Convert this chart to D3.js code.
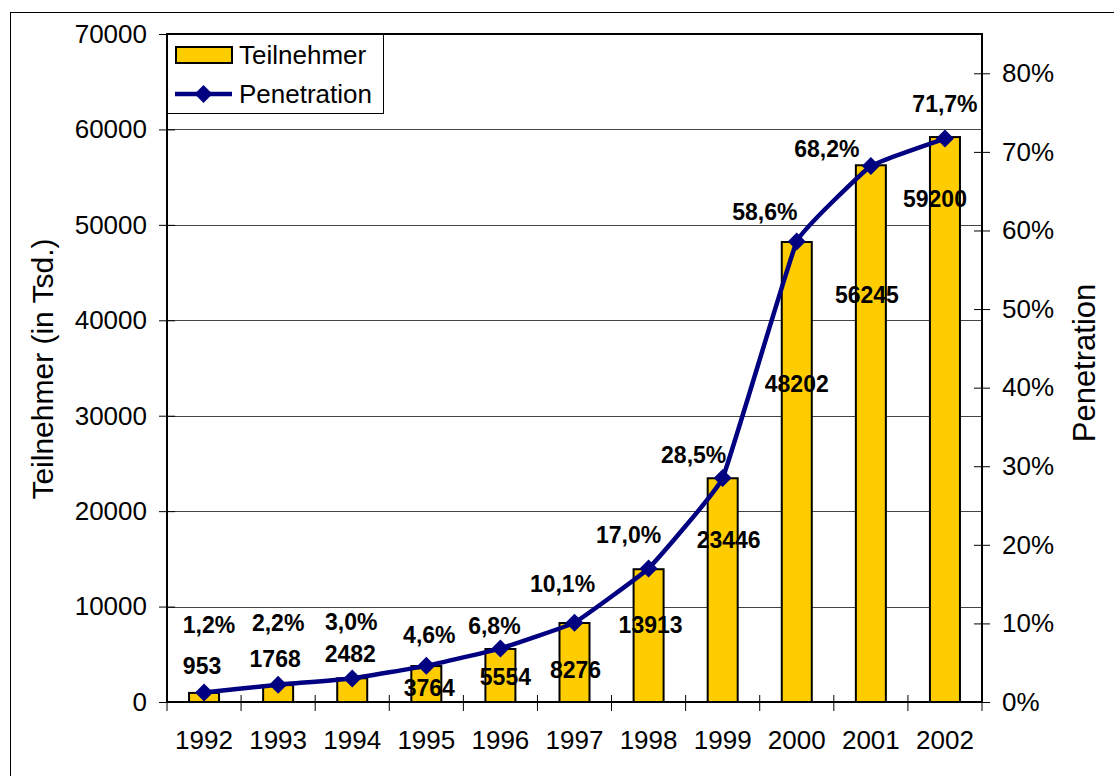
<!DOCTYPE html>
<html>
<head>
<meta charset="utf-8">
<script src="https://cdn.jsdelivr.net/npm/d3@7"></script>
<style>
  body { margin: 0; background: #fff; }
  svg text { font-family: Arial, "Liberation Sans", sans-serif; fill: #000; }
</style>
</head>
<body>
<svg id="chart" width="1114" height="776"></svg>
<script>
'use strict';

// data
var years = ["1992", "1993", "1994", "1995", "1996", "1997", "1998", "1999", "2000", "2001", "2002"];
var teilnehmer = [953, 1768, 2482, 3764, 5554, 8276, 13913, 23446, 48202, 56245, 59200];
var penetration = [1.2, 2.2, 3.0, 4.6, 6.8, 10.1, 17.0, 28.5, 58.6, 68.2, 71.7];
var leftTicks = [0, 10000, 20000, 30000, 40000, 50000, 60000, 70000];
var rightTicks = [0, 10, 20, 30, 40, 50, 60, 70, 80];

// hand-placed label offsets (px) as in the original chart
var barLabelOffset = [[-2, -27], [-3, -26], [-2, -24], [3, 22], [5, 28], [1, 47], [2, 56], [6, 62], [0, 142], [-4, 130], [-10, 62]];
var pctLabelOffset = [[5, -68], [0, -62], [-1, -56], [3, -31], [-6, -23], [-12, -39], [-20, -33], [-29, -23], [-32, -30], [-44, -17], [0, -35]];

var margin = { left: 167, right: 982, top: 34, bottom: 702 };

var svg = d3.select("#chart");

var de = d3.formatLocale({ decimal: ",", thousands: ".", grouping: [3], currency: ["", "€"] });
var fmtPct = de.format(".1f");

var x = d3.scaleBand()
    .domain(years)
    .range([margin.left, margin.right])
    .paddingInner(0.595)
    .paddingOuter(0.2975);

var yL = d3.scaleLinear().domain([0, 70000]).range([margin.bottom, margin.top]);
var yR = d3.scaleLinear().domain([0, 85]).range([margin.bottom, margin.top]);

var step = (margin.right - margin.left) / years.length;
var cx = (d) => x(d) + x.bandwidth() / 2;

// outer frame
svg.append("rect")
    .attr("x", 10.5).attr("y", 12.5)
    .attr("width", 1200).attr("height", 1000)
    .attr("fill", "none").attr("stroke", "#000").attr("stroke-width", 1);

// gridlines
svg.append("g")
    .selectAll("line")
    .data(leftTicks.filter((d) => d > 0 && d < 70000))
    .enter().append("line")
    .attr("x1", margin.left).attr("x2", margin.right)
    .attr("y1", (d) => Math.round(yL(d)) + 0.5)
    .attr("y2", (d) => Math.round(yL(d)) + 0.5)
    .attr("stroke", "#444").attr("stroke-width", 1);

// bars
svg.append("g")
    .selectAll("rect")
    .data(teilnehmer)
    .enter().append("rect")
    .attr("x", (d, i) => x(years[i]))
    .attr("y", (d) => yL(d))
    .attr("width", x.bandwidth())
    .attr("height", (d) => yL(0) - yL(d))
    .attr("fill", "#FFCC00")
    .attr("stroke", "#000")
    .attr("stroke-width", 2);

// plot border
svg.append("rect")
    .attr("x", margin.left).attr("y", margin.top)
    .attr("width", margin.right - margin.left)
    .attr("height", margin.bottom - margin.top)
    .attr("fill", "none").attr("stroke", "#000").attr("stroke-width", 2);

// left axis
var leftAxis = svg.append("g")
    .attr("transform", "translate(" + margin.left + ",0)")
    .call(d3.axisLeft(yL).tickValues(leftTicks).tickSize(8).tickPadding(12).tickFormat(d3.format("d")));
leftAxis.select(".domain").remove();
leftAxis.selectAll(".tick line").attr("x2", -8).attr("x1", 8).attr("stroke", "#000");
leftAxis.selectAll("text").style("font-size", "26px").attr("x", -20);

// right axis
var rightAxis = svg.append("g")
    .attr("transform", "translate(" + margin.right + ",0)")
    .call(d3.axisRight(yR).tickValues(rightTicks).tickSize(8).tickPadding(12).tickFormat((d) => d + "%"));
rightAxis.select(".domain").remove();
rightAxis.selectAll(".tick line").attr("x1", -8).attr("x2", 8).attr("stroke", "#000");
rightAxis.selectAll("text").style("font-size", "26px").attr("x", 20);

// bottom axis: ticks at category boundaries
svg.append("g")
    .selectAll("line")
    .data(d3.range(years.length + 1))
    .enter().append("line")
    .attr("x1", (d) => margin.left + d * step)
    .attr("x2", (d) => margin.left + d * step)
    .attr("y1", margin.bottom - 7)
    .attr("y2", margin.bottom + 9)
    .attr("stroke", "#000").attr("stroke-width", 1);

svg.append("g")
    .selectAll("text")
    .data(years)
    .enter().append("text")
    .attr("x", (d) => cx(d))
    .attr("y", 749)
    .attr("text-anchor", "middle")
    .style("font-size", "26px")
    .text((d) => d);

// line (Excel-style light smoothing)
var line = d3.line()
    .x((d, i) => cx(years[i]))
    .y((d) => yR(d))
    .curve(d3.curveCardinal.tension(0.75));

svg.append("path")
    .datum(penetration)
    .attr("d", line)
    .attr("fill", "none")
    .attr("stroke", "#000080")
    .attr("stroke-width", 4.5);

var diamond = "M0,-9L9,0L0,9L-9,0Z";

svg.append("g")
    .selectAll("path")
    .data(penetration)
    .enter().append("path")
    .attr("d", diamond)
    .attr("transform", (d, i) => "translate(" + cx(years[i]) + "," + yR(d) + ")")
    .attr("fill", "#000080");

// data labels
svg.append("g")
    .selectAll("text")
    .data(teilnehmer)
    .enter().append("text")
    .attr("x", (d, i) => cx(years[i]) + barLabelOffset[i][0])
    .attr("y", (d, i) => yL(d) + barLabelOffset[i][1])
    .attr("dy", "0.35em")
    .attr("text-anchor", "middle")
    .style("font-size", "23px")
    .style("font-weight", "bold")
    .text((d) => d);

svg.append("g")
    .selectAll("text")
    .data(penetration)
    .enter().append("text")
    .attr("x", (d, i) => cx(years[i]) + pctLabelOffset[i][0])
    .attr("y", (d, i) => yR(d) + pctLabelOffset[i][1])
    .attr("dy", "0.35em")
    .attr("text-anchor", "middle")
    .style("font-size", "23px")
    .style("font-weight", "bold")
    .text((d) => fmtPct(d) + "%");

// axis titles
svg.append("text")
    .attr("transform", "translate(53,369) rotate(-90)")
    .attr("text-anchor", "middle")
    .style("font-size", "30px")
    .text("Teilnehmer (in Tsd.)");

svg.append("text")
    .attr("transform", "translate(1095,363) rotate(-90)")
    .attr("text-anchor", "middle")
    .style("font-size", "31px")
    .text("Penetration");

// legend
var legend = svg.append("g");
legend.append("rect")
    .attr("x", 167.5).attr("y", 34.5)
    .attr("width", 216).attr("height", 79)
    .attr("fill", "#fff").attr("stroke", "#000").attr("stroke-width", 1);

legend.append("rect")
    .attr("x", 176).attr("y", 47)
    .attr("width", 56).attr("height", 16)
    .attr("fill", "#FFCC00").attr("stroke", "#000").attr("stroke-width", 2);

legend.append("line")
    .attr("x1", 175).attr("x2", 232)
    .attr("y1", 94).attr("y2", 94)
    .attr("stroke", "#000080").attr("stroke-width", 4.5);

legend.append("path")
    .attr("d", diamond)
    .attr("transform", "translate(203.5,94)")
    .attr("fill", "#000080");

legend.selectAll(".lt")
    .data(["Teilnehmer", "Penetration"])
    .enter().append("text")
    .attr("x", 239)
    .attr("y", (d, i) => 55 + i * 39)
    .attr("dy", "0.35em")
    .style("font-size", "26px")
    .text((d) => d);
</script>
</body>
</html>
